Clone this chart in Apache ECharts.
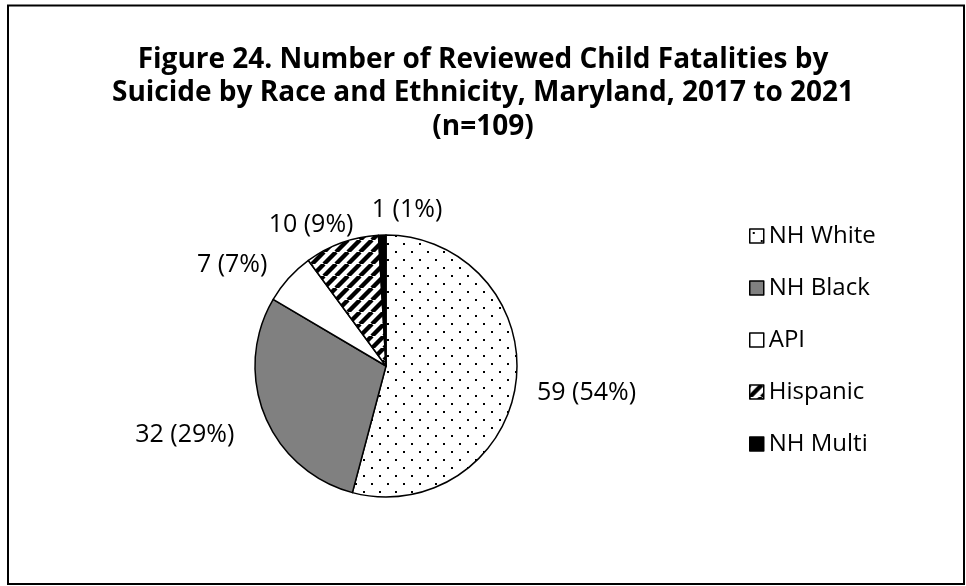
<!DOCTYPE html>
<html>
<head>
<meta charset="utf-8">
<script src="https://cdn.jsdelivr.net/npm/echarts@6/dist/echarts.min.js"></script>
<style>
  html, body { margin: 0; padding: 0; background: #fff; }
  #chart { width: 966px; height: 586px; }
</style>
</head>
<body>
<div id="chart"></div>
<script>
// Reviewed child suicide fatalities by race and ethnicity, Maryland 2017-2021
const categories = ['NH White', 'NH Black', 'API', 'Hispanic', 'NH Multi'];
const counts = [59, 32, 7, 10, 1];
const percentLabels = [54, 29, 7, 9, 1];
const titleLines = [
  'Figure 24. Number of Reviewed Child Fatalities by',
  'Suicide by Race and Ethnicity, Maryland, 2017 to 2021',
  '(n=109)'
];

const FONT = '"Open Sans", "Noto Sans", sans-serif';
const CX = 386, CY = 366, R = 131;

// Fill patterns for the slices
function dotPattern() {
  const c = document.createElement('canvas');
  c.width = 16; c.height = 16;
  const g = c.getContext('2d');
  g.fillStyle = '#fff'; g.fillRect(0, 0, 16, 16);
  g.fillStyle = '#000';
  g.fillRect(3, 3, 2, 2);
  g.fillRect(11, 11, 2, 2);
  return { image: c, repeat: 'repeat' };
}
function stripePattern() {
  const s = 12;
  const c = document.createElement('canvas');
  c.width = s; c.height = s;
  const g = c.getContext('2d');
  g.fillStyle = '#fff'; g.fillRect(0, 0, s, s);
  g.strokeStyle = '#000'; g.lineWidth = 4.4;
  g.beginPath();
  for (const k of [-s, 0, s]) { g.moveTo(k, s); g.lineTo(k + s, 0); }
  g.stroke();
  return { image: c, repeat: 'repeat' };
}
const fills = [dotPattern(), '#808080', '#ffffff', stripePattern(), '#000000'];

// Label placement: point on the slice's mid-angle ray, then a per-label shift
const labelDist = R + 40;
const labelShift = [[31, 5], [-43, 4], [-27, 14], [-17, 20], [26, 15]];
const total = counts.reduce((a, b) => a + b, 0);
function midAngle(i) {
  let before = 0;
  for (let k = 0; k < i; k++) before += counts[k];
  return ((before + counts[i] / 2) / total) * 2 * Math.PI; // clockwise from 12 o'clock
}

const chart = echarts.init(document.getElementById('chart'), null, { renderer: 'canvas' });
chart.setOption({
  animation: false,
  backgroundColor: '#fff',
  title: {
    text: titleLines.join('\n'),
    left: 'center',
    top: 43,
    padding: 0,
    textStyle: {
      fontFamily: FONT, fontSize: 28, fontWeight: 'bold',
      color: '#000', lineHeight: 33.5
    }
  },
  legend: {
    orient: 'vertical',
    left: 749,
    top: 224,
    padding: 0,
    icon: 'rect',
    itemWidth: 14,
    itemHeight: 14,
    itemGap: 28,
    selectedMode: false,
    itemStyle: { borderColor: '#000', borderWidth: 1.5 },
    textStyle: { fontFamily: FONT, fontSize: 24, color: '#000', lineHeight: 24 },
    data: categories
  },
  graphic: [{
    type: 'rect',
    shape: { x: 8, y: 5.5, width: 956, height: 578.5 },
    style: { fill: null, stroke: '#000', lineWidth: 2 },
    silent: true
  }],
  series: [{
    type: 'pie',
    center: [CX, CY],
    radius: R,
    startAngle: 90,
    clockwise: true,
    silent: true,
    itemStyle: { borderColor: '#000', borderWidth: 1.5 },
    label: {
      show: true,
      position: 'outside',
      fontFamily: FONT,
      fontSize: 25,
      color: '#000',
      formatter: p => counts[p.dataIndex] + ' (' + percentLabels[p.dataIndex] + '%)'
    },
    labelLine: { show: false },
    labelLayout: function (p) {
      const i = p.dataIndex;
      const a = midAngle(i);
      return {
        x: CX + labelDist * Math.sin(a) + labelShift[i][0],
        y: CY - labelDist * Math.cos(a) + labelShift[i][1],
        align: 'center',
        verticalAlign: 'middle'
      };
    },
    data: categories.map((name, i) => ({
      name: name,
      value: counts[i],
      itemStyle: { color: fills[i] }
    }))
  }]
});
</script>
</body>
</html>
